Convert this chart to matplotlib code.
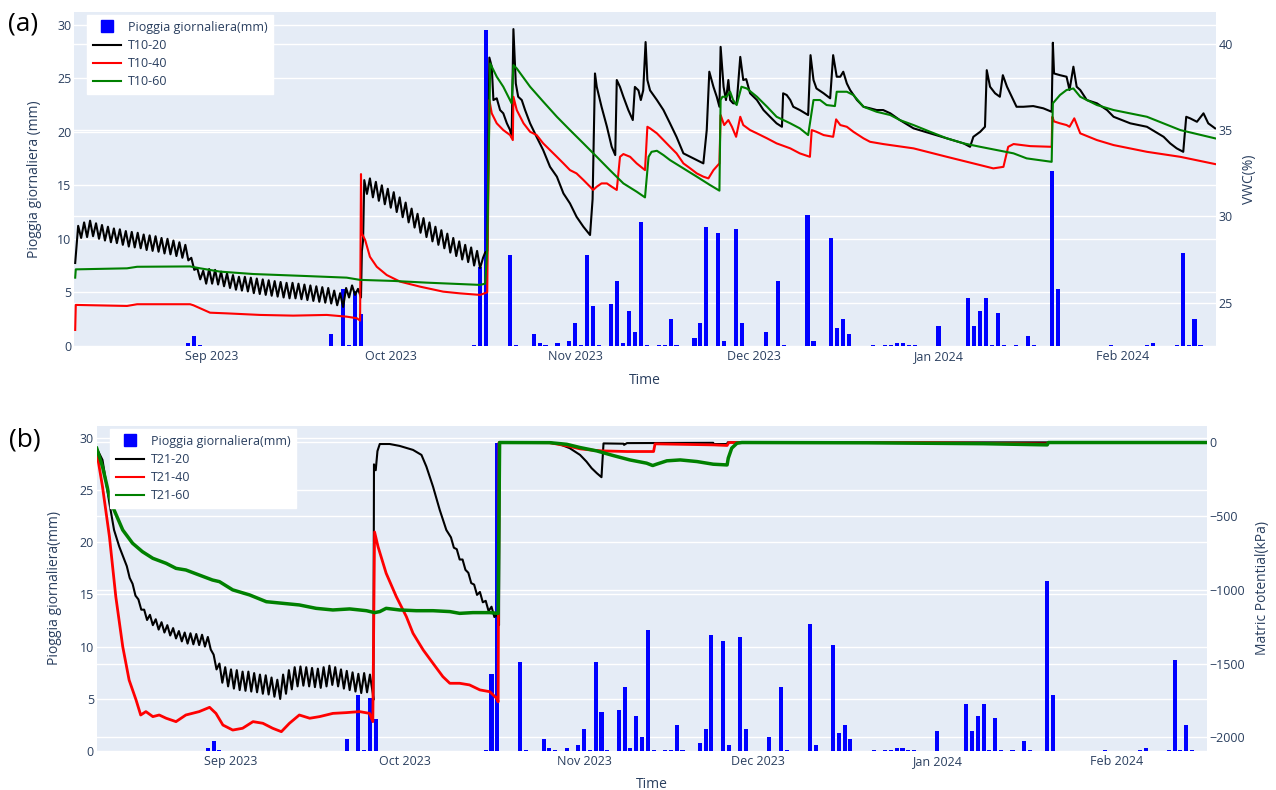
import numpy as np
import pandas as pd
import matplotlib
matplotlib.use("Agg")
import matplotlib.pyplot as plt
import matplotlib.dates as mdates
from matplotlib.lines import Line2D
from matplotlib.transforms import blended_transform_factory

plt.rcParams["font.family"] = ["Open Sans", "DejaVu Sans"]

BG = "#e5ecf6"
INK = "#2a3f5f"

# daily rainfall (mm)
rain_dates = [
    "2023-08-28", "2023-08-29", "2023-08-30",
    "2023-09-21", "2023-09-23", "2023-09-24", "2023-09-25", "2023-09-26",
    "2023-10-15", "2023-10-16", "2023-10-17", "2023-10-21", "2023-10-22", "2023-10-25",
    "2023-10-26", "2023-10-27", "2023-10-29", "2023-10-31",
    "2023-11-01", "2023-11-02", "2023-11-03", "2023-11-04", "2023-11-05", "2023-11-07",
    "2023-11-08", "2023-11-09", "2023-11-10", "2023-11-11", "2023-11-12", "2023-11-13",
    "2023-11-15", "2023-11-16", "2023-11-17", "2023-11-18", "2023-11-21", "2023-11-22",
    "2023-11-23", "2023-11-25", "2023-11-26", "2023-11-28", "2023-11-29",
    "2023-12-03", "2023-12-05", "2023-12-06", "2023-12-10", "2023-12-11", "2023-12-14",
    "2023-12-15", "2023-12-16", "2023-12-17", "2023-12-21", "2023-12-23", "2023-12-24",
    "2023-12-25", "2023-12-26", "2023-12-27", "2023-12-28",
    "2024-01-01", "2024-01-06", "2024-01-07", "2024-01-08", "2024-01-09", "2024-01-10",
    "2024-01-11", "2024-01-12", "2024-01-14", "2024-01-16", "2024-01-17", "2024-01-20",
    "2024-01-21", "2024-01-30",
    "2024-02-05", "2024-02-06", "2024-02-10", "2024-02-11", "2024-02-12", "2024-02-13",
    "2024-02-14",
]
rain_mm = [
    0.3, 0.9, 0.1,
    1.1, 5.3, 0.1, 5.1, 3.0,
    0.1, 7.4, 29.5, 8.5, 0.1, 1.1,
    0.3, 0.1, 0.3, 0.5,
    2.1, 0.1, 8.5, 3.7, 0.1, 3.9,
    6.1, 0.3, 3.3, 1.3, 11.6, 0.1,
    0.1, 0.1, 2.5, 0.1, 0.7, 2.1,
    11.1, 10.5, 0.5, 10.9, 2.1,
    1.3, 6.1, 0.1, 12.2, 0.5, 10.1,
    1.7, 2.5, 1.1, 0.1, 0.1, 0.1,
    0.3, 0.3, 0.1, 0.1,
    1.9, 4.5, 1.9, 3.3, 4.5, 0.1,
    3.1, 0.1, 0.1, 0.9, 0.1, 16.3,
    5.3, 0.1,
    0.1, 0.3, 0.1, 8.7, 0.1, 2.5,
    0.1,
]

# sensor logs, time in days after 1 Oct 2023
T0 = pd.Timestamp("2023-10-01")
X_RANGE = (-53.2, 138.55)

# ---- (a) VWC (%) ----
# T10-20 noon / midnight readings, 9 Aug -> 26 Sep
t10_20_aug = [
    29.45, 28.75, 29.65, 28.8, 29.75, 28.85, 29.6, 28.7, 29.5, 28.6, 29.4, 28.5,
    29.3, 28.45, 29.25, 28.35, 29.15, 28.25, 29.1, 28.2, 29.05, 28.15, 28.95, 28.05,
    28.9, 28.0, 28.85, 27.95, 28.75, 27.85, 28.7, 27.8, 28.6, 27.7, 28.5, 27.6,
    28.35, 27.45, 27.6, 26.9, 27.0, 26.35, 26.85, 26.1, 26.95, 26.1, 26.9, 26.05,
    26.8, 25.95, 26.7, 25.85, 26.6, 25.75, 26.5, 25.7, 26.5, 25.65, 26.45, 25.55,
    26.4, 25.5, 26.35, 25.45, 26.3, 25.4, 26.25, 25.35, 26.2, 25.3, 26.15, 25.25,
    26.15, 25.25, 26.1, 25.2, 26.05, 25.15, 26.0, 25.1, 25.95, 25.05, 25.9, 25.0,
    25.85, 24.95, 25.7, 24.85, 25.55, 24.75, 25.85, 25.3, 26.0, 25.45, 25.8, 25.3,
]
# T10-20 noon / midnight readings, 27 Sep -> 15 Oct
t10_20_oct = [
    32.2, 31.1, 32.0, 30.9, 31.8, 30.7, 31.6, 30.5, 31.4, 30.25, 31.1, 29.95,
    30.8, 29.65, 30.45, 29.35, 30.15, 29.05, 29.9, 28.8, 29.65, 28.55, 29.4, 28.35,
    29.2, 28.15, 29.0, 27.9, 28.75, 27.7, 28.55, 27.5, 28.35, 27.35, 28.2, 27.15,
    28.0, 27.0,
]
t10_20_head = [(-53.0, 27.3)]
t10_20_jump = [(-4.85, 28.0), (-4.65, 28.6), (-4.45, 32.1), (-4.0, 31.3)]
t10_20_tail = [
    (15.5, 27.6), (15.85, 27.9), (16.2, 28.0), (16.56, 39.2), (16.96, 38.67), (17.24, 36.74),
    (17.8, 36.84), (18.36, 36.16), (18.9, 35.97), (19.5, 35.39), (20.04, 35.0), (20.3, 34.6),
    (20.6, 40.85), (21.0, 37.7), (21.4, 36.93), (22.0, 36.74), (22.56, 36.16), (23.4, 35.39),
    (24.5, 34.6), (25.6, 33.84), (26.75, 32.87), (27.9, 32.3), (29.0, 31.33), (30.1, 30.75),
    (31.2, 29.98), (32.35, 29.4), (33.47, 28.92), (33.9, 31.0), (34.3, 38.28), (34.6, 37.5),
    (35.4, 36.35), (36.3, 35.2), (37.1, 34.04), (37.7, 33.55), (37.96, 37.9), (38.5, 37.5),
    (39.07, 36.93), (39.9, 36.16), (40.65, 35.58), (41.0, 37.5), (41.6, 37.3), (42.0, 36.74),
    (42.4, 37.3), (42.8, 40.1), (43.1, 37.9), (43.55, 37.3), (44.7, 36.74), (45.8, 36.16),
    (46.9, 35.39), (48.0, 34.6), (49.15, 33.65), (50.3, 33.45), (51.4, 33.26), (52.5, 33.07),
    (53.07, 35.0), (53.5, 38.38), (54.2, 37.5), (54.75, 36.93), (55.2, 36.35), (55.4, 39.82),
    (55.9, 37.5), (56.3, 36.74), (56.7, 37.9), (57.0, 36.74), (57.5, 36.55), (58.1, 36.55),
    (58.7, 39.24), (59.2, 37.9), (59.7, 37.95), (60.35, 37.13), (61.5, 36.74), (62.6, 36.16),
    (63.7, 35.77), (64.8, 35.39), (65.7, 35.19), (65.9, 37.13), (66.5, 37.03), (67.1, 36.74),
    (67.6, 36.35), (68.7, 36.16), (70.1, 35.87), (70.5, 39.34), (71.0, 37.9), (71.5, 37.41),
    (72.7, 37.13), (73.8, 36.84), (74.3, 39.34), (74.9, 38.09), (75.5, 38.09), (76.0, 38.38),
    (76.6, 37.7), (77.15, 37.32), (78.3, 36.74), (79.4, 36.35), (80.5, 36.26), (81.6, 36.16),
    (82.7, 36.16), (83.9, 35.97), (85.5, 35.58), (87.8, 35.1), (90.6, 34.81), (93.4, 34.52),
    (96.2, 34.23), (97.3, 34.03), (97.85, 34.61), (99.0, 34.9), (99.8, 35.19), (100.1, 38.47),
    (100.65, 37.51), (101.5, 37.13), (102.3, 36.93), (102.8, 38.18), (103.5, 37.51),
    (104.3, 36.93), (105.1, 36.35), (106.25, 36.35), (107.9, 36.39), (109.6, 36.26),
    (111.0, 36.06), (111.2, 40.06), (111.4, 38.28), (112.4, 38.18), (113.5, 38.09),
    (114.0, 37.32), (114.65, 38.67), (115.2, 37.51), (115.8, 37.32), (116.9, 36.74),
    (118.6, 36.55), (120.3, 36.16), (121.4, 35.77), (124.2, 35.39), (127.0, 35.19),
    (129.8, 34.61), (130.9, 34.23), (132.0, 33.94), (133.1, 33.74), (133.6, 35.77),
    (134.25, 35.68), (135.4, 35.48), (136.5, 35.97), (137.3, 35.39), (138.45, 35.10),
]
t10_40 = [
    (-53.0, 23.42), (-52.9, 24.87), (-44.3, 24.81), (-42.6, 24.91), (-33.7, 24.91),
    (-33.15, 24.85), (-30.35, 24.42), (-27.5, 24.38), (-21.95, 24.29), (-16.4, 24.25),
    (-10.75, 24.29), (-7.4, 24.19), (-5.7, 24.10), (-5.15, 23.96), (-5.0, 32.45),
    (-4.87, 29.02), (-4.3, 28.63), (-3.5, 27.66), (-2.35, 27.08), (-0.67, 26.60),
    (1.56, 26.22), (4.9, 25.93), (8.8, 25.64), (11.6, 25.54), (15.0, 25.45), (16.2, 25.6),
    (16.56, 36.74), (16.96, 35.97), (17.8, 35.39), (18.9, 35.0), (20.04, 34.71), (20.5, 34.42),
    (20.6, 36.93), (21.16, 36.16), (22.3, 35.39), (23.4, 34.9), (24.5, 34.71), (25.6, 34.23),
    (26.75, 33.84), (27.9, 33.45), (29.0, 33.07), (30.1, 32.68), (31.2, 32.49), (32.35, 32.11),
    (33.47, 31.72), (34.0, 31.53), (34.6, 31.72), (35.4, 31.91), (36.3, 31.91), (37.1, 31.72),
    (37.96, 31.53), (38.5, 33.45), (39.07, 33.61), (40.2, 33.45), (41.3, 33.07), (42.7, 32.68),
    (43.1, 35.19), (43.55, 35.1), (44.7, 34.81), (45.8, 34.42), (46.9, 34.03), (48.0, 33.65),
    (49.15, 33.07), (50.3, 32.78), (51.4, 32.49), (52.5, 32.30), (53.35, 32.20), (54.2, 32.68),
    (55.2, 33.07), (55.4, 35.87), (56.0, 35.29), (56.7, 35.58), (57.3, 35.19), (58.0, 34.61),
    (58.7, 35.77), (59.2, 35.29), (60.35, 35.0), (61.5, 34.81), (63.2, 34.52), (64.8, 34.23),
    (67.1, 33.94), (68.7, 33.65), (70.4, 33.45), (70.7, 35.0), (71.5, 34.9), (72.7, 34.71),
    (74.3, 34.61), (74.8, 35.62), (75.5, 35.29), (76.6, 35.19), (77.7, 34.9), (79.4, 34.52),
    (80.5, 34.32), (82.7, 34.19), (87.8, 33.94), (93.4, 33.45), (99.0, 32.97), (101.2, 32.78),
    (102.9, 32.87), (103.7, 34.03), (104.6, 34.19), (107.4, 34.07), (111.0, 34.03),
    (111.1, 35.77), (111.4, 35.5), (112.4, 35.39), (113.5, 35.29), (114.0, 35.19),
    (114.8, 35.68), (115.8, 34.81), (118.6, 34.42), (121.4, 34.13), (127.0, 33.74),
    (132.6, 33.45), (138.45, 33.03),
]
t10_60 = [
    (-53.0, 26.45), (-52.9, 26.93), (-44.3, 26.99), (-42.6, 27.08), (-33.7, 27.1),
    (-32.0, 26.99), (-28.7, 26.80), (-23.1, 26.66), (-14.7, 26.55), (-7.4, 26.45),
    (-5.15, 26.32), (0.44, 26.26), (6.05, 26.16), (15.0, 26.03), (15.84, 26.1), (16.2, 28.0),
    (16.7, 38.86), (17.8, 38.09), (18.9, 37.51), (20.3, 36.55), (20.6, 38.76), (21.16, 38.57),
    (23.4, 37.51), (25.6, 36.65), (27.9, 35.77), (30.1, 35.0), (32.35, 34.23), (34.6, 33.45),
    (36.8, 32.68), (39.07, 31.91), (41.3, 31.43), (42.7, 31.10), (43.3, 33.45), (43.8, 33.74),
    (44.7, 33.80), (45.8, 33.55), (46.9, 33.26), (49.15, 32.78), (51.4, 32.30), (53.6, 31.82),
    (55.2, 31.49), (55.4, 36.74), (55.7, 36.93), (56.4, 36.93), (57.0, 37.22), (57.5, 36.74),
    (58.1, 36.45), (58.9, 37.51), (59.8, 37.41), (61.5, 36.93), (63.2, 36.35), (64.8, 35.77),
    (67.1, 35.39), (68.7, 35.10), (70.1, 34.71), (71.0, 36.74), (72.1, 36.74), (73.2, 36.45),
    (74.6, 36.39), (74.9, 37.22), (76.6, 37.22), (77.7, 37.03), (79.4, 36.35), (81.6, 36.06),
    (83.9, 35.87), (85.5, 35.58), (87.8, 35.29), (90.6, 34.9), (93.4, 34.52), (96.2, 34.23),
    (99.0, 34.03), (101.8, 33.84), (104.6, 33.65), (106.8, 33.36), (111.0, 33.16),
    (111.2, 36.55), (112.4, 37.03), (113.5, 37.32), (114.65, 37.41), (115.8, 36.93),
    (118.6, 36.45), (121.4, 36.16), (127.0, 35.77), (132.6, 35.0), (138.45, 34.52),
]

# ---- (b) matric potential (kPa) ----
# T21-20 midnight / noon readings, 13 Aug -> 25 Sep
t21_20_aug = [
    -840, -920, -960, -1040, -1065, -1135, -1135, -1205, -1170, -1240, -1200, -1270,
    -1220, -1290, -1240, -1310, -1260, -1330, -1280, -1350, -1290, -1365, -1295, -1370,
    -1300, -1375, -1305, -1385, -1320, -1405, -1440, -1540, -1500, -1630, -1525, -1655,
    -1540, -1670, -1545, -1680, -1555, -1685, -1555, -1690, -1565, -1695, -1575, -1705,
    -1580, -1710, -1595, -1725, -1610, -1740, -1575, -1705, -1545, -1675, -1525, -1655,
    -1520, -1650, -1525, -1655, -1530, -1660, -1535, -1665, -1525, -1655, -1515, -1645,
    -1525, -1655, -1540, -1670, -1550, -1680, -1560, -1690, -1570, -1700, -1565, -1695,
    -1575, -1705,
]
# T21-20 midnight / noon readings, 9 Oct -> 17 Oct
t21_20_oct = [
    -645, -715, -725, -795, -795, -865, -885, -955, -965, -1035, -1015, -1085,
    -1075, -1145, -1115, -1185, -1165,
]
t21_20_head = [(-53.2, -41), (-52.2, -120), (-51.0, -414), (-50.2, -595), (-49.3, -708),
               (-48.5, -790)]
t21_20_mid = [
    (-5.4, -1747), (-5.3, -150), (-5.0, -190), (-4.7, -60), (-4.3, -12), (-2.6, -12),
    (-0.87, -25), (1.44, -52), (2.9, -86), (3.75, -165), (4.9, -301), (6.06, -459),
    (7.2, -595),
]
t21_20_tail = [
    (16.3, -1240), (16.4, -2), (25.1, -3), (26.8, -14), (28.5, -40), (30.3, -86),
    (31.4, -131), (32.3, -176), (33.2, -210), (34.0, -237), (34.35, -8), (37.8, -10),
    (37.9, -18), (38.4, -6), (53.3, -4), (53.4, -12), (55.7, -12), (55.8, -1), (138.6, -1),
]
t21_40 = [
    (-53.2, -64), (-52.2, -301), (-51.0, -640), (-49.9, -1047), (-48.7, -1386),
    (-47.6, -1612), (-46.4, -1747), (-45.6, -1849), (-44.7, -1826), (-43.5, -1860),
    (-42.4, -1849), (-41.2, -1871), (-39.5, -1894), (-37.8, -1849), (-35.5, -1826),
    (-33.7, -1797), (-32.6, -1838), (-31.4, -1917), (-29.7, -1951), (-28.0, -1939),
    (-26.2, -1894), (-24.5, -1905), (-22.8, -1939), (-21.3, -1962), (-19.9, -1905),
    (-18.2, -1849), (-16.4, -1871), (-14.7, -1860), (-12.4, -1838), (-10.1, -1833),
    (-7.8, -1826), (-6.06, -1838), (-5.5, -1894), (-5.2, -608), (-4.6, -708), (-3.2, -888),
    (-1.44, -1047), (0.29, -1182), (1.44, -1295), (3.2, -1408), (4.9, -1499), (6.6, -1589),
    (7.8, -1634), (9.5, -1634), (11.2, -1645), (13.0, -1679), (14.7, -1691), (15.9, -1736),
    (16.15, -1760), (16.3, -2), (25.0, -3), (28.5, -28), (30.3, -45), (33.0, -56),
    (34.4, -59), (38.4, -63), (43.0, -63), (43.25, -11), (47.6, -14), (53.3, -18),
    (55.7, -22), (56.0, -2), (90.0, -3), (111.0, -12), (111.2, -2), (138.6, -2),
]
t21_60 = [
    (-53.2, -41), (-52.2, -165), (-51.0, -369), (-50.2, -459), (-48.7, -595), (-47.0, -685),
    (-45.3, -742), (-43.5, -787), (-41.2, -821), (-39.5, -855), (-37.8, -866), (-35.5, -900),
    (-33.2, -934), (-32.0, -945), (-29.7, -1001), (-26.8, -1035), (-23.9, -1081),
    (-21.05, -1092), (-18.2, -1103), (-15.3, -1126), (-12.4, -1137), (-9.5, -1130),
    (-6.6, -1142), (-5.2, -1155), (-4.3, -1148), (-3.2, -1126), (-0.87, -1137), (2.0, -1142),
    (4.9, -1142), (7.8, -1148), (9.5, -1160), (11.8, -1155), (14.7, -1155), (16.15, -1160),
    (16.4, -2), (25.1, -3), (28.0, -14), (30.3, -36), (33.2, -59), (36.0, -90), (38.9, -120),
    (41.8, -142), (42.85, -158), (43.5, -149), (45.3, -126), (47.6, -120), (50.5, -131),
    (53.3, -149), (55.7, -154), (55.9, -108), (56.5, -40), (57.4, -7), (58.25, -2),
    (80.0, -4), (100.0, -10), (111.0, -18), (111.2, -2), (138.6, -2),
]


def halfday(start, vals):
    return list(zip(start + 0.5 * np.arange(len(vals)), vals))


def to_xy(points):
    days, vals = zip(*points)
    return T0 + pd.to_timedelta(np.array(days), unit="D"), np.array(vals)


t10_20 = t10_20_head + halfday(-52.5, t10_20_aug) + t10_20_jump \
    + halfday(-3.5, t10_20_oct) + t10_20_tail
t21_20 = t21_20_head + halfday(-48.0, t21_20_aug) + t21_20_mid \
    + halfday(8.0, t21_20_oct) + t21_20_tail


def panel(ax, left_label, right_label, right_lim, right_ticks, series, legend_pos):
    ax2 = ax.twinx()
    ax.set_facecolor(BG)
    ax.set_axisbelow(True)
    ax.bar(pd.to_datetime(rain_dates), rain_mm, width=0.7, color="blue", zorder=2)
    ax.grid(axis="y", color="white", lw=1)
    # second axis grid, kept under the bars like plotly does
    trans = blended_transform_factory(ax.transAxes, ax2.transData)
    for v in right_ticks:
        ax.add_line(Line2D([0, 1], [v, v], transform=trans, color="white", lw=1, zorder=0.6))

    handles = [Line2D([], [], ls="none", marker="s", ms=8, color="blue")]
    labels = ["Pioggia giornaliera(mm)"]
    for name, pts, color, lw in series:
        x, y = to_xy(pts)
        ax2.plot(x, y, color=color, lw=lw)
        handles.append(Line2D([], [], color=color, lw=1.5))
        labels.append(name)

    ax.set_ylim(0, 31.17)
    ax.set_yticks(range(0, 31, 5))
    ax2.set_ylim(*right_lim)
    ax2.set_yticks(right_ticks)
    ax.set_xlim(T0 + pd.Timedelta(days=X_RANGE[0]), T0 + pd.Timedelta(days=X_RANGE[1]))
    ax.xaxis.set_major_locator(mdates.MonthLocator())
    ax.xaxis.set_major_formatter(mdates.DateFormatter("%b %Y"))

    for a in (ax, ax2):
        for s in a.spines.values():
            s.set_visible(False)
        a.tick_params(length=0, labelsize=9, colors=INK)
    ax.tick_params(axis="y", pad=2)
    ax2.tick_params(axis="y", pad=2)
    ax.tick_params(axis="x", pad=3)

    ax.set_ylabel(left_label, fontsize=10, color=INK)
    ax2.set_ylabel(right_label, fontsize=10, color=INK, rotation=90)
    ax.set_xlabel("Time", fontsize=10, color=INK)
    ax.yaxis.label.set_va("center")
    ax2.yaxis.label.set_va("center")
    ax.xaxis.label.set_va("center")

    leg = ax2.legend(handles, labels, loc="upper left", bbox_to_anchor=legend_pos,
                     bbox_transform=ax.figure.transFigure, fontsize=9, frameon=True,
                     fancybox=False, framealpha=1, edgecolor="white", handlelength=2.3,
                     handletextpad=0.5, labelspacing=0.42, borderpad=0.45, borderaxespad=0)
    for t in leg.get_texts():
        t.set_color(INK)
    return ax2


W, H = 1276, 790
fig = plt.figure(figsize=(12.76, 7.90), dpi=100)

ax_a = fig.add_axes([74 / W, 1 - 346 / H, (1215.7 - 74) / W, (346 - 12) / H])
a2 = panel(ax_a, "Pioggia giornaliera (mm)", "VWC(%)", (22.49, 41.84), [25, 30, 35, 40],
           [("T10-20", t10_20, "black", 1.5),
            ("T10-40", t10_40, "red", 1.5),
            ("T10-60", t10_60, "green", 1.5)],
           (87 / W, 1 - 15 / H))
ax_a.yaxis.set_label_coords(-0.035, 0.5)
a2.yaxis.set_label_coords(1.03, 0.5)
ax_a.xaxis.set_label_coords(0.5, -0.102)

ax_b = fig.add_axes([96.7 / W, 1 - 750.7 / H, (1206.7 - 96.7) / W, (750.7 - 426) / H])
b2 = panel(ax_b, "Pioggia giornaliera(mm)", "Matric Potential(kPa)", (-2091, 110),
           [-2000, -1500, -1000, -500, 0],
           [("T21-20", t21_20, "black", 1.5),
            ("T21-40", t21_40, "red", 2.0),
            ("T21-60", t21_60, "green", 2.5)],
           (110 / W, 1 - 429 / H))
ax_b.yaxis.set_label_coords(-0.0376, 0.5)
b2.yaxis.set_label_coords(1.0507, 0.5)
ax_b.xaxis.set_label_coords(0.5, -0.1035)

fig.text(8 / W, 1 - 24 / H, "(a)", fontsize=19, va="center", ha="left", color="black")
fig.text(9 / W, 1 - 440 / H, "(b)", fontsize=19, va="center", ha="left", color="black")

fig.savefig("out.png", dpi=100, facecolor="white")
